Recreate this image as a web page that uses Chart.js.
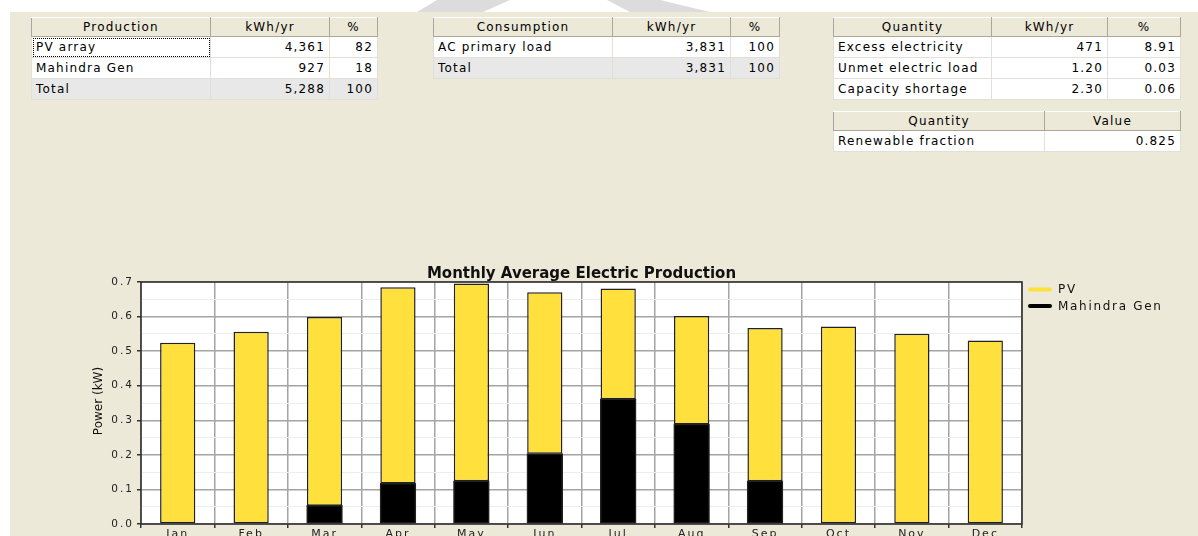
<!DOCTYPE html>
<html>
<head>
<meta charset="utf-8">
<script src="https://cdn.jsdelivr.net/npm/chart.js@4.4.0/dist/chart.umd.min.js"></script>
<style>
  html, body { margin: 0; padding: 0; width: 1198px; height: 536px; overflow: hidden; background: #fff; }
  #bg { position: absolute; left: 10px; top: 12px; right: 0; bottom: 0; background: #ECE9D8; }
  .shape { position: absolute; top: 0; height: 12px; background: #dcdcdc; }
  table { position: absolute; border-collapse: collapse; table-layout: fixed; font: 12px "DejaVu Sans", sans-serif;
          letter-spacing: 1.2px; color: #000; border: 1px solid #a7a6aa; background: #fff; }
  th { font-weight: normal; background: #ECE9D8; border-right: 1px solid #aca899; border-bottom: 1px solid #aca899;
       border-top: 1px solid #fff; height: 18px; padding: 0; text-align: center; }
  td { border: 1px solid #e2e0d6; height: 20px; padding: 0 4px; white-space: nowrap; overflow: hidden; }
  td.n { text-align: right; }
  tr.total td { background: #e8e8e8; }
  td.focus { outline: 1px dotted #000; outline-offset: -2px; }
  #chartBox { position: absolute; left: 0; top: 250px; width: 1198px; height: 300px; }
</style>
</head>
<body>
<div id="bg"></div>
<div class="shape" style="left:417px;width:93px;clip-path:polygon(20px 0,93px 0,66px 12px,0 12px);"></div>
<div class="shape" style="left:607px;width:103px;clip-path:polygon(0 0,53px 0,103px 12px,23px 12px);"></div>
<div id="tables"></div>
<div id="chartBox"><canvas id="chart"></canvas></div>
<script>
// table data
const prodHead = ["Production", "kWh/yr", "%"];
const prodRows = [["PV array", "4,361", "82"], ["Mahindra Gen", "927", "18"], ["Total", "5,288", "100"]];
const consHead = ["Consumption", "kWh/yr", "%"];
const consRows = [["AC primary load", "3,831", "100"], ["Total", "3,831", "100"]];
const qtyHead = ["Quantity", "kWh/yr", "%"];
const qtyRows = [["Excess electricity", "471", "8.91"], ["Unmet electric load", "1.20", "0.03"], ["Capacity shortage", "2.30", "0.06"]];
const fracHead = ["Quantity", "Value"];
const fracRows = [["Renewable fraction", "0.825"]];

// chart data
const months = ["Jan", "Feb", "Mar", "Apr", "May", "Jun", "Jul", "Aug", "Sep", "Oct", "Nov", "Dec"];
const pvPower = [0.524, 0.556, 0.546, 0.568, 0.572, 0.467, 0.320, 0.314, 0.443, 0.571, 0.550, 0.531];
const genPower = [0, 0, 0.053, 0.117, 0.124, 0.203, 0.361, 0.288, 0.124, 0, 0, 0];
const yTickValues = [0, 0.05, 0.1, 0.15, 0.2, 0.25, 0.3, 0.35, 0.4, 0.45, 0.5, 0.55, 0.6, 0.65, 0.7];
const yLabels = ["0.0", "0.1", "0.2", "0.3", "0.4", "0.5", "0.6", "0.7"];
const chartTitle = "Monthly Average Electric Production";
const yTitle = "Power (kW)";

function makeTable(left, top, widths, head, rows, hasTotal) {
  const t = document.createElement("table");
  t.style.left = left + "px";
  t.style.top = top + "px";
  t.style.width = widths.reduce((a, b) => a + b, 0) + "px";
  const cg = document.createElement("colgroup");
  widths.forEach(w => {
    const c = document.createElement("col");
    c.style.width = w + "px";
    cg.appendChild(c);
  });
  t.appendChild(cg);
  const hr = t.insertRow();
  head.forEach(h => {
    const th = document.createElement("th");
    th.textContent = h;
    hr.appendChild(th);
  });
  rows.forEach((r, i) => {
    const tr = t.insertRow();
    if (hasTotal && i === rows.length - 1) tr.className = "total";
    r.forEach((v, j) => {
      const td = tr.insertCell();
      td.textContent = v;
      if (j > 0) td.className = "n";
    });
  });
  document.getElementById("tables").appendChild(t);
  return t;
}

const pt = makeTable(31, 17, [179, 119, 48], prodHead, prodRows, true);
pt.rows[1].cells[0].classList.add("focus");
makeTable(433, 17, [179, 118, 49], consHead, consRows, true);
makeTable(833, 17, [158, 116, 73], qtyHead, qtyRows, false);
makeTable(833, 111, [211, 136], fracHead, fracRows, false);

// white plot area, frame, title, axis title and legend
const framePlugin = {
  id: "frame",
  beforeDraw(chart) {
    const { ctx, chartArea: a } = chart;
    ctx.save();
    ctx.fillStyle = "#fff";
    ctx.fillRect(a.left, a.top, a.right - a.left, a.bottom - a.top);
    ctx.restore();
    ctx.letterSpacing = "2px";
  },
  afterDraw(chart) {
    const { ctx, chartArea: a } = chart;
    ctx.save();
    ctx.letterSpacing = "0px";
    ctx.strokeStyle = "#333";
    ctx.lineWidth = 1.6;
    ctx.strokeRect(a.left, a.top, a.right - a.left, a.bottom - a.top);

    ctx.fillStyle = "#111";
    ctx.font = 'bold 15px "DejaVu Sans"';
    ctx.textAlign = "center";
    ctx.textBaseline = "alphabetic";
    ctx.fillText(chartTitle, (a.left + a.right) / 2, a.top - 4);

    ctx.save();
    ctx.translate(99, 151);
    ctx.rotate(-Math.PI / 2);
    ctx.font = '12px "DejaVu Sans"';
    ctx.textBaseline = "middle";
    ctx.fillText(yTitle, 0, 0);
    ctx.restore();

    // legend, top item first
    ctx.letterSpacing = "1.7px";
    ctx.font = '12px "DejaVu Sans"';
    ctx.textAlign = "left";
    ctx.textBaseline = "middle";
    const items = chart.data.datasets.slice().reverse();
    items.forEach((ds, i) => {
      const y = 39.5 + i * 16.5;
      ctx.strokeStyle = ds.backgroundColor;
      ctx.lineWidth = 4;
      ctx.lineCap = "round";
      ctx.beginPath();
      ctx.moveTo(a.right + 8, y);
      ctx.lineTo(a.right + 28, y);
      ctx.stroke();
      ctx.fillStyle = "#111";
      ctx.fillText(ds.label, a.right + 36, y + 0.5);
    });
    ctx.restore();
  }
};

new Chart(document.getElementById("chart"), {
  type: "bar",
  data: {
    labels: months,
    datasets: [
      { label: "Mahindra Gen", data: genPower, backgroundColor: "#000000", borderColor: "#222", borderWidth: 1.5,
        borderSkipped: false, inflateAmount: 0.6 },
      { label: "PV", data: pvPower, backgroundColor: "#FFE03C", borderColor: "#222", borderWidth: 1.5, borderSkipped: false }
    ]
  },
  options: {
    responsive: true,
    maintainAspectRatio: false,
    animation: false,
    devicePixelRatio: 1,
    layout: { padding: { top: 32, right: 176, left: 0, bottom: 0 } },
    datasets: { bar: { barPercentage: 0.48, categoryPercentage: 1 } },
    plugins: { legend: { display: false }, tooltip: { enabled: false }, title: { display: false } },
    scales: {
      x: {
        stacked: true,
        afterFit: s => { s.height = 26; },
        border: { display: false },
        grid: { offset: true, color: "#a4a4a4", lineWidth: 1.5, tickColor: "#333", tickLength: 4 },
        ticks: { padding: 0, color: "#222", font: { family: "DejaVu Sans", size: 11 } }
      },
      y: {
        stacked: true,
        min: 0,
        max: 0.7,
        afterFit: s => { s.width = 141; },
        afterBuildTicks: s => { s.ticks = yTickValues.map(v => ({ value: v })); },
        border: { display: false },
        grid: {
          color: c => (c.index % 2 === 0 ? "#a4a4a4" : "#ededed"),
          lineWidth: c => (c.index % 2 === 0 ? 1.5 : 1),
          tickColor: c => (c.index % 2 === 0 ? "#333" : "rgba(0,0,0,0)"),
          tickLength: 4
        },
        ticks: {
          padding: 3,
          color: "#222",
          font: { family: "DejaVu Sans", size: 10.5 },
          callback: (v, i) => (i % 2 === 0 ? yLabels[i / 2] : "")
        }
      }
    }
  },
  plugins: [framePlugin]
});
</script>
</body>
</html>
